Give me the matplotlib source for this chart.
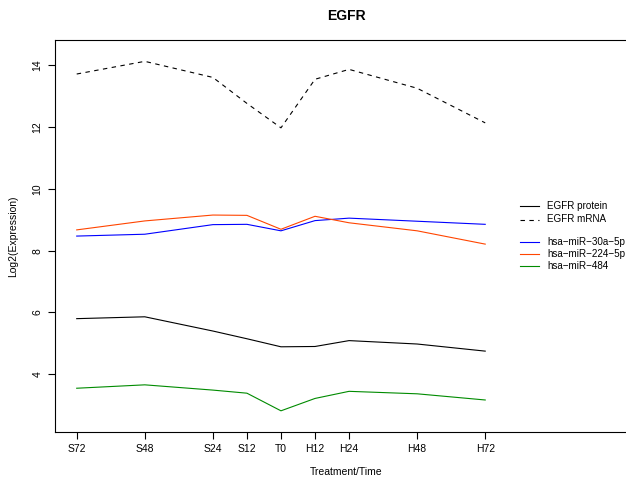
import matplotlib.pyplot as plt
from matplotlib.lines import Line2D

plt.rcParams["font.family"] = ["Liberation Sans", "DejaVu Sans"]

# time points in hours relative to T0 (S = before, H = after)
hours = [-72, -48, -24, -12, 0, 12, 24, 48, 72]
time_labels = ["S72", "S48", "S24", "S12", "T0", "H12", "H24", "H48", "H72"]

egfr_protein = [5.80, 5.86, 5.40, 5.15, 4.89, 4.90, 5.09, 4.98, 4.75]
egfr_mrna = [13.71, 14.12, 13.60, 12.76, 11.97, 13.54, 13.86, 13.25, 12.13]
mir_30a = [8.47, 8.53, 8.84, 8.85, 8.64, 8.97, 9.05, 8.95, 8.85]
mir_224 = [8.67, 8.96, 9.15, 9.14, 8.69, 9.11, 8.90, 8.64, 8.21]
mir_484 = [3.55, 3.66, 3.49, 3.39, 2.82, 3.22, 3.45, 3.37, 3.17]

W, H = 626, 480
fig = plt.figure(figsize=(W / 100, H / 100), dpi=100)
# plot region runs past the right edge of the device, like the R layout
ax = fig.add_axes([55 / W, 1 - 432 / H, 582 / W, 392 / H])

lw = 0.8
ax.plot(hours, egfr_protein, color="black", lw=lw)
ax.plot(hours, egfr_mrna, color="black", lw=lw, linestyle=(0, (4, 4)))
ax.plot(hours, mir_30a, color="#0000FF", lw=lw)
ax.plot(hours, mir_224, color="#FF4500", lw=lw)
ax.plot(hours, mir_484, color="#008B00", lw=lw)

ax.set_xlim(-79.65, 125.5)
ax.set_ylim(2.135, 14.81)
ax.set_xticks(hours)
ax.set_xticklabels(time_labels)
ax.set_yticks([4, 6, 8, 10, 12, 14])
ax.tick_params(axis="both", direction="out", length=5, width=0.8, labelsize=7.5,
               pad=4)
for lab in ax.get_yticklabels():
    lab.set_rotation(90)
    lab.set_va("center")
for side in ["left", "bottom", "top"]:
    ax.spines[side].set_linewidth(0.8)
ax.spines["right"].set_visible(False)

ax.set_xlabel("Treatment/Time", fontsize=7.5, labelpad=9)
ax.set_ylabel("Log2(Expression)", fontsize=7.5, labelpad=10)
fig.text(346 / W, 1 - 16 / H, "EGFR", ha="center", va="center",
         fontsize=10, fontweight="bold")

# legend, drawn in figure pixels
legend_items = [
    ("EGFR protein", "black", "-", 206),
    ("EGFR mRNA", "black", (0, (4, 4)), 219.5),
    ("hsa\u2212miR\u221230a\u22125p", "#0000FF", "-", 242),
    ("hsa\u2212miR\u2212224\u22125p", "#FF4500", "-", 254),
    ("hsa\u2212miR\u2212484", "#008B00", "-", 266),
]
for text, color, ls, ypx in legend_items:
    y = 1 - ypx / H
    fig.add_artist(Line2D([520 / W, 539 / W], [y, y], color=color, lw=lw,
                          linestyle=ls))
    fig.text(547 / W, y, text, fontsize=7.1, va="center", ha="left")

fig.savefig("out.png", dpi=100)
